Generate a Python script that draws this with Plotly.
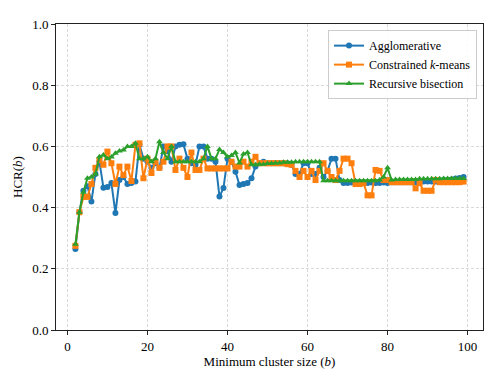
import plotly.graph_objects as go

min_size = list(range(2, 100))

agglomerative = [
    0.265, 0.385, 0.455, 0.470, 0.420, 0.510, 0.550, 0.465, 0.467, 0.480,  # 2-11
    0.382, 0.490, 0.500, 0.477, 0.480, 0.485, 0.605, 0.560, 0.550, 0.530,  # 12-21
    0.545, 0.530, 0.600, 0.585, 0.550, 0.600, 0.605, 0.607, 0.560, 0.545,  # 22-31
    0.540, 0.600, 0.600, 0.560, 0.560, 0.550, 0.436, 0.464, 0.560, 0.550,  # 32-41
    0.517, 0.474, 0.477, 0.480, 0.496, 0.534, 0.545, 0.550, 0.545, 0.545,  # 42-51
    0.545, 0.545, 0.545, 0.545, 0.540, 0.510, 0.510, 0.545, 0.545, 0.510,  # 52-61
    0.510, 0.530, 0.500, 0.520, 0.560, 0.560, 0.490, 0.480, 0.480, 0.482,  # 62-71
    0.480, 0.482, 0.480, 0.480, 0.482, 0.480, 0.480, 0.482, 0.480, 0.483,  # 72-81
    0.483, 0.483, 0.483, 0.483, 0.483, 0.483, 0.483, 0.485, 0.485, 0.485,  # 82-91
    0.485, 0.488, 0.490, 0.490, 0.492, 0.495, 0.497, 0.500,               # 92-99
]

kmeans = [
    0.275, 0.385, 0.435, 0.435, 0.477, 0.530, 0.555, 0.540, 0.583, 0.545,  # 2-11
    0.477, 0.534, 0.506, 0.534, 0.487, 0.605, 0.610, 0.496, 0.560, 0.513,  # 12-21
    0.550, 0.530, 0.550, 0.600, 0.600, 0.523, 0.560, 0.530, 0.500, 0.580,  # 22-31
    0.523, 0.523, 0.560, 0.528, 0.528, 0.528, 0.528, 0.528, 0.528, 0.550,  # 32-41
    0.534, 0.534, 0.550, 0.534, 0.550, 0.566, 0.545, 0.545, 0.545, 0.545,  # 42-51
    0.545, 0.545, 0.545, 0.542, 0.540, 0.520, 0.500, 0.520, 0.500, 0.520,  # 52-61
    0.490, 0.520, 0.545, 0.520, 0.500, 0.490, 0.520, 0.560, 0.560, 0.545,  # 62-71
    0.477, 0.477, 0.480, 0.440, 0.440, 0.523, 0.520, 0.490, 0.490, 0.483,  # 72-81
    0.483, 0.483, 0.483, 0.483, 0.483, 0.463, 0.480, 0.455, 0.455, 0.455,  # 82-91
    0.490, 0.483, 0.483, 0.483, 0.483, 0.483, 0.483, 0.485,               # 92-99
]

bisection = [
    0.280, 0.385, 0.450, 0.496, 0.500, 0.510, 0.566, 0.572, 0.560, 0.565,  # 2-11
    0.578, 0.585, 0.588, 0.600, 0.600, 0.610, 0.560, 0.560, 0.566, 0.550,  # 12-21
    0.560, 0.615, 0.580, 0.560, 0.600, 0.550, 0.550, 0.550, 0.550, 0.550,  # 22-31
    0.550, 0.550, 0.560, 0.600, 0.560, 0.560, 0.590, 0.580, 0.566, 0.570,  # 32-41
    0.580, 0.546, 0.575, 0.580, 0.540, 0.540, 0.542, 0.542, 0.544, 0.544,  # 42-51
    0.546, 0.546, 0.548, 0.548, 0.548, 0.550, 0.550, 0.550, 0.550, 0.550,  # 52-61
    0.550, 0.550, 0.488, 0.488, 0.488, 0.488, 0.488, 0.488, 0.488, 0.488,  # 62-71
    0.488, 0.488, 0.488, 0.488, 0.488, 0.488, 0.490, 0.500, 0.530, 0.490,  # 72-81
    0.492, 0.492, 0.492, 0.492, 0.492, 0.492, 0.494, 0.494, 0.494, 0.494,  # 82-91
    0.494, 0.494, 0.495, 0.495, 0.495, 0.495, 0.495, 0.495,               # 92-99
]

series = [
    ('Agglomerative', agglomerative, '#1f77b4', 'circle'),
    ('Constrained <i>k</i>-means', kmeans, '#ff7f0e', 'square'),
    ('Recursive bisection', bisection, '#2ca02c', 'triangle-up'),
]

font_family = 'Liberation Serif, DejaVu Serif, serif'

fig = go.Figure()
for name, values, color, symbol in series:
    fig.add_trace(go.Scatter(
        x=min_size, y=values, name=name, mode='lines+markers',
        line=dict(color=color, width=2),
        marker=dict(color=color, symbol=symbol, size=6, line=dict(width=0))))

axis_style = dict(
    showgrid=True, gridcolor='#d9d9d9', griddash='3px,2px', gridwidth=1,
    showline=True, mirror=True, linecolor='#222222', linewidth=1,
    ticks='outside', ticklen=4, tickcolor='#222222', zeroline=False,
    tickfont=dict(size=13, color='black'))

fig.update_xaxes(range=[-2.85, 103.85], tickvals=[0, 20, 40, 60, 80, 100],
                 title=dict(text='Minimum cluster size (<i>b</i>)', standoff=2,
                            font=dict(size=13, color='black')),
                 **axis_style)
fig.update_yaxes(range=[0, 1], tickvals=[0, 0.2, 0.4, 0.6, 0.8, 1.0], tickformat='.1f',
                 title=dict(text='HCR(<i>b</i>)', standoff=6,
                            font=dict(size=13, color='black')),
                 **axis_style)

# page body has a small margin, so the figure is shifted by that much
fig.update_layout(
    width=490, height=366,
    margin=dict(l=45, r=15, t=9, b=43),
    plot_bgcolor='white', paper_bgcolor='white',
    font=dict(family=font_family, size=12, color='black'),
    legend=dict(x=0.986, y=0.98, xanchor='right', yanchor='top',
                bgcolor='rgba(255,255,255,0.85)', bordercolor='#cccccc', borderwidth=1,
                font=dict(size=12), tracegroupgap=0, itemwidth=30),
    showlegend=True)

fig.write_html('out.html')
